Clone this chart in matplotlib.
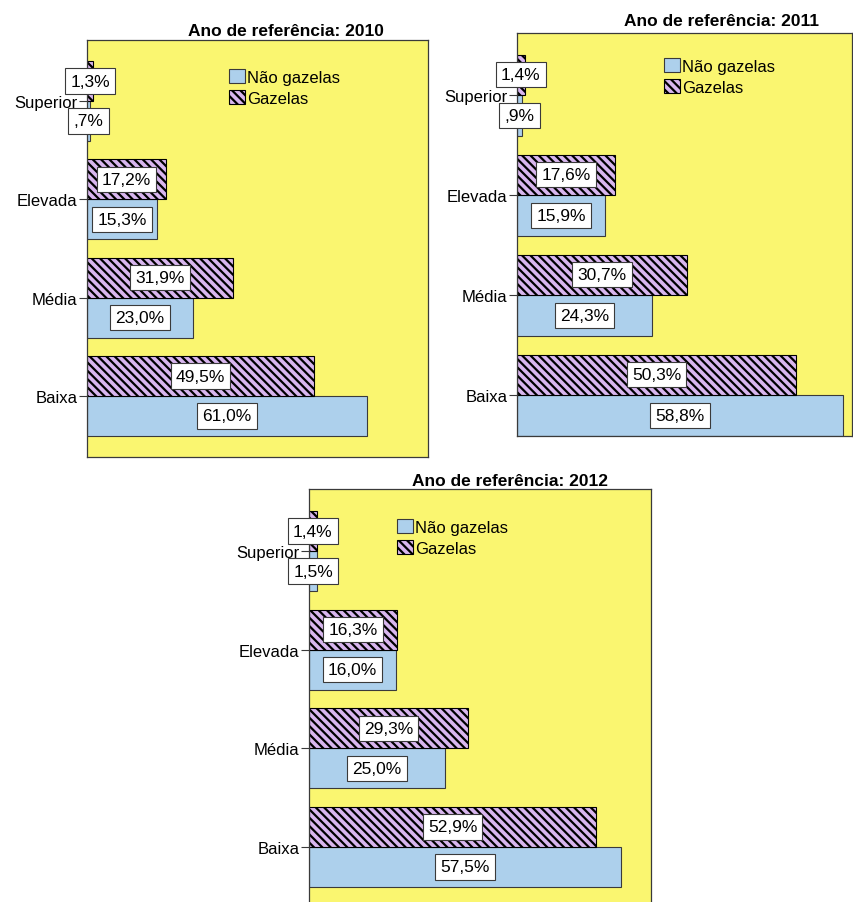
import matplotlib
matplotlib.use('Agg')
import matplotlib.pyplot as plt
import numpy as np

plt.rcParams['font.family'] = ['Liberation Sans', 'DejaVu Sans']
plt.rcParams['hatch.linewidth'] = 1.6

categories = ['Baixa', 'Média', 'Elevada', 'Superior']
series_names = ['Não gazelas', 'Gazelas']

years = ['2010', '2011', '2012']
nao_gazelas = {
    '2010': [61.0, 23.0, 15.3, 0.7],
    '2011': [58.8, 24.3, 15.9, 0.9],
    '2012': [57.5, 25.0, 16.0, 1.5],
}
gazelas = {
    '2010': [49.5, 31.9, 17.2, 1.3],
    '2011': [50.3, 30.7, 17.6, 1.4],
    '2012': [52.9, 29.3, 16.3, 1.4],
}

YELLOW = '#FAF670'
BLUE = '#ADD0EC'
LILAC = '#D8B6EE'
EDGE = '#3a3a3a'

W, H = 854, 903

# per panel: axes box in pixels (left, top, right, bottom), xmax, ylim, title centre, legend anchor
panels = {
    '2010': dict(box=(87, 41, 428, 458), xmax=74.3, ylim=(-0.62, 3.62),
                 title=(286, 31), legend=(229, 70)),
    '2011': dict(box=(517, 34, 852, 437), xmax=60.4, ylim=(-0.41, 3.62),
                 title=(722, 22), legend=(664, 59)),
    '2012': dict(box=(309, 490, 651, 908), xmax=63.0, ylim=(-0.61, 3.63),
                 title=(510, 482), legend=(397, 520)),
}


def fmt(v):
    s = f"{v:.1f}".replace('.', ',')
    if s.startswith('0'):
        s = s[1:]
    return s + '%'


fig = plt.figure(figsize=(W / 100, H / 100), dpi=100)
fig.patch.set_facecolor('white')

bar_h = 0.405
y = np.arange(len(categories))
box_style = dict(boxstyle='square,pad=0.3', fc='white', ec=EDGE, lw=0.8)

for year in years:
    p = panels[year]
    l, t, r, b = p['box']
    ax = fig.add_axes([l / W, 1 - b / H, (r - l) / W, (b - t) / H])
    ax.set_facecolor(YELLOW)

    ng = ax.barh(y - bar_h / 2, nao_gazelas[year], height=bar_h, color=BLUE,
                 edgecolor=EDGE, linewidth=0.8, label=series_names[0])
    gz = ax.barh(y + bar_h / 2, gazelas[year], height=bar_h, color=LILAC,
                 edgecolor='black', linewidth=0.8, hatch='\\\\\\\\', label=series_names[1])

    for yy, v in zip(y - bar_h / 2, nao_gazelas[year]):
        ax.text(v / 2, yy, fmt(v), ha='center', va='center', fontsize=12.5, clip_on=False,
                bbox=box_style)
    for yy, v in zip(y + bar_h / 2, gazelas[year]):
        ax.text(v / 2, yy, fmt(v), ha='center', va='center', fontsize=12.5, clip_on=False,
                bbox=box_style)

    ax.set_xlim(0, p['xmax'])
    ax.set_ylim(*p['ylim'])
    ax.set_xticks([])
    ax.set_yticks(y)
    ax.set_yticklabels(categories, fontsize=12)
    ax.tick_params(axis='y', length=6, width=0.8, color=EDGE, pad=1)
    for s in ax.spines.values():
        s.set_color(EDGE)
        s.set_linewidth(0.9)

    tx, ty = p['title']
    fig.text(tx / W, 1 - ty / H, f'Ano de referência: {year}', ha='center', va='center',
             fontsize=12.5, fontweight='bold')

    lx, ly = p['legend']
    fig.legend(handles=[ng, gz], labels=series_names, loc='upper left',
               bbox_to_anchor=(lx / W, 1 - ly / H), bbox_transform=fig.transFigure,
               frameon=False, fontsize=12, handlelength=0.95, handleheight=0.95,
               handletextpad=0.12, labelspacing=0.3, borderpad=0, borderaxespad=0)

fig.savefig('out.png', dpi=100)
plt.close(fig)
